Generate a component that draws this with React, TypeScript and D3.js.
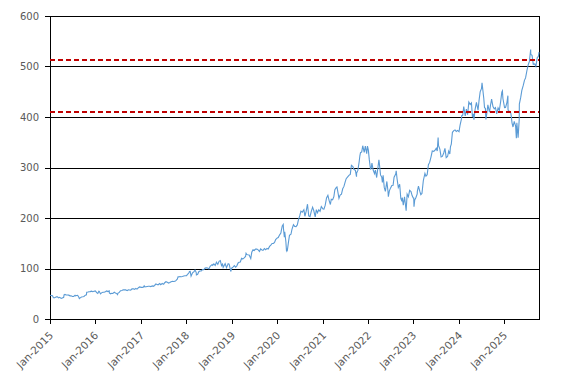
import React from "react";
import * as d3 from "d3";

type Pt = [string, number];

const y2015: Pt[] = [["01-02",46.8],["01-12",46.6],["01-21",45.9],["01-27",42.7],["02-02",41.7],["02-11",42.4],["02-20",43.9],["03-02",43.9],["03-11",41.9],["03-20",42.9],["04-01",40.7],["04-10",41.7],["04-21",42.9],["04-24",47.9],["05-01",48.6],["05-11",47.4],["05-21",47.4],["06-01",47.2],["06-11",45.9],["06-19",46.1],["07-01",44.5],["07-10",44.6],["07-21",47.0],["07-24",45.9],["08-03",46.7],["08-11",47.0],["08-21",43.1],["08-25",40.5],["09-01",41.8],["09-11",43.5],["09-21",43.9],["10-01",44.6],["10-12",47.1],["10-21",47.8],["10-23",52.9],["11-02",53.4],["11-11",54.0],["11-20",54.2],["12-01",55.2],["12-11",54.1],["12-21",54.8],["12-31",55.5]];
const y2016: Pt[] = [["01-04",54.8],["01-11",52.3],["01-20",50.8],["01-29",55.1],["02-01",54.7],["02-11",49.7],["02-19",51.8],["03-01",52.9],["03-11",53.1],["03-21",53.9],["04-01",55.6],["04-11",54.3],["04-21",55.8],["04-22",51.8],["05-02",50.0],["05-11",51.0],["05-20",50.6],["06-01",52.9],["06-10",51.5],["06-21",50.3],["06-27",48.4],["07-01",51.2],["07-11",52.6],["07-21",55.9],["08-01",56.6],["08-11",58.0],["08-19",57.6],["09-01",57.6],["09-12",56.2],["09-21",57.8],["10-03",57.4],["10-11",57.2],["10-21",59.7],["11-01",59.8],["11-11",58.7],["11-21",60.6],["12-01",59.2],["12-12",62.0],["12-21",63.5]];
const y2017: Pt[] = [["01-03",62.6],["01-11",62.6],["01-20",62.7],["01-27",65.8],["02-01",63.6],["02-10",64.0],["02-21",64.5],["03-01",64.9],["03-10",64.9],["03-21",64.2],["04-03",65.6],["04-11",64.7],["04-21",66.4],["04-28",68.5],["05-01",69.4],["05-11",68.5],["05-19",67.7],["06-01",70.1],["06-09",68.0],["06-21",70.3],["06-30",68.9],["07-03",69.0],["07-11",71.8],["07-21",73.8],["08-01",72.6],["08-11",71.2],["08-21",72.2],["09-01",73.9],["09-11",74.8],["09-21",74.2],["10-02",74.6],["10-11",76.3],["10-20",78.8],["10-27",83.8],["11-01",83.2],["11-10",84.0],["11-21",83.7],["12-01",84.3],["12-11",85.2],["12-21",85.5]];
const y2018: Pt[] = [["01-02",85.9],["01-11",88.3],["01-22",91.6],["01-26",94.1],["02-01",94.3],["02-08",85.0],["02-21",92.0],["03-01",92.9],["03-12",96.8],["03-21",92.5],["03-23",87.2],["04-02",88.5],["04-11",93.6],["04-20",95.0],["05-01",95.0],["05-11",97.7],["05-21",97.5],["06-01",100.8],["06-11",101.3],["06-21",101.1],["07-02",99.1],["07-11",104.2],["07-20",106.3],["07-27",107.7],["08-01",106.3],["08-10",109.0],["08-21",106.0],["08-31",112.3],["09-11",108.2],["09-21",114.3],["10-01",115.6],["10-11",105.7],["10-19",108.5],["10-24",102.3],["11-01",105.9],["11-09",109.6],["11-20",101.7],["12-03",109.6],["12-11",108.6],["12-21",98.2],["12-24",94.1]];
const y2019: Pt[] = [["01-02",101.1],["01-11",102.8],["01-22",105.7],["02-01",102.8],["02-11",105.3],["02-21",111.0],["03-01",112.5],["03-11",112.8],["03-21",120.3],["04-01",119.0],["04-11",120.9],["04-22",123.8],["04-26",129.9],["05-01",127.9],["05-10",127.1],["05-21",126.9],["06-03",119.8],["06-11",132.1],["06-21",137.0],["07-01",135.7],["07-11",138.4],["07-22",138.4],["08-01",136.9],["08-12",133.8],["08-21",138.8],["09-03",136.1],["09-11",136.1],["09-20",139.4],["10-01",137.1],["10-11",139.7],["10-21",138.4],["11-01",143.7],["11-11",146.1],["11-21",149.5],["12-02",149.6],["12-11",151.7],["12-20",157.4]];
const y2020: Pt[] = [["01-02",160.6],["01-10",161.3],["01-21",166.7],["01-31",170.2],["02-03",174.4],["02-11",184.4],["02-19",187.3],["02-21",178.6],["02-28",162.0],["03-02",172.8],["03-11",153.6],["03-16",135.4],["03-20",137.4],["03-23",136.0],["04-01",152.1],["04-09",165.5],["04-21",167.8],["04-29",177.4],["05-11",186.7],["05-21",183.4],["06-01",182.8],["06-11",186.3],["06-19",195.2],["07-01",204.7],["07-10",213.7],["07-21",211.6],["08-03",216.5],["08-11",203.4],["08-21",213.0],["09-01",227.3],["09-11",204.0],["09-21",202.5],["10-01",212.5],["10-12",221.4],["10-21",214.9],["11-02",202.3],["11-11",216.5],["11-20",210.4],["12-01",216.2],["12-11",213.3],["12-21",222.6]];
const y2021: Pt[] = [["01-04",217.7],["01-11",217.5],["01-21",225.0],["01-27",232.9],["02-01",239.6],["02-12",245.0],["02-22",234.5],["03-04",226.7],["03-11",237.1],["03-22",236.0],["04-01",242.4],["04-09",255.9],["04-21",260.6],["04-26",261.6],["05-03",251.9],["05-12",239.0],["05-21",245.2],["06-01",247.3],["06-11",257.9],["06-21",262.6],["07-01",271.6],["07-09",277.9],["07-21",281.4],["08-02",284.9],["08-11",286.4],["08-20",304.4],["09-01",301.8],["09-10",296.0],["09-21",294.3],["09-30",281.9],["10-01",289.1],["10-11",294.2],["10-21",310.8],["10-27",323.2],["11-01",329.4],["11-11",330.8],["11-19",343.1],["12-01",330.1],["12-10",342.5],["12-21",327.3],["12-27",342.5]];
const y2022: Pt[] = [["01-03",334.8],["01-11",315.0],["01-21",296.0],["01-27",299.8],["02-01",308.8],["02-11",295.0],["02-22",287.7],["03-01",294.9],["03-11",280.1],["03-21",299.5],["03-29",315.4],["04-01",309.4],["04-11",285.3],["04-21",280.8],["04-26",270.2],["05-02",284.5],["05-11",260.6],["05-20",252.6],["06-01",272.4],["06-10",253.0],["06-13",242.3],["06-21",253.7],["07-01",259.6],["07-11",264.5],["07-21",264.8],["07-29",280.7],["08-11",287.0],["08-15",293.5],["08-22",277.8],["09-01",260.4],["09-12",266.7],["09-21",239.0],["09-30",232.9],["10-03",240.7],["10-11",225.4],["10-21",242.1],["10-26",231.3],["11-03",214.3],["11-11",247.1],["11-21",242.1],["12-01",254.7],["12-12",252.5],["12-21",244.4],["12-30",239.8]];
const y2023: Pt[] = [["01-03",239.6],["01-05",222.3],["01-11",235.8],["01-20",240.2],["01-31",247.8],["02-01",252.8],["02-10",263.1],["02-21",252.7],["03-01",246.3],["03-10",248.6],["03-21",273.8],["04-03",288.3],["04-11",282.8],["04-21",285.8],["04-26",295.4],["05-01",305.6],["05-11",310.1],["05-22",321.2],["06-01",332.6],["06-12",331.9],["06-21",333.6],["07-03",338.0],["07-11",332.5],["07-18",359.5],["07-21",343.8],["08-01",336.3],["08-11",321.0],["08-21",321.9],["09-01",328.7],["09-11",337.9],["09-21",319.5],["10-02",321.8],["10-11",332.4],["10-20",326.7],["10-25",340.7],["11-01",346.1],["11-10",369.7],["11-21",373.1],["12-01",374.5],["12-11",371.3],["12-21",373.5]];
const y2024: Pt[] = [["01-02",370.9],["01-11",384.6],["01-22",396.5],["01-24",402.6],["02-01",403.8],["02-09",420.6],["02-21",402.2],["03-01",415.5],["03-11",404.5],["03-21",429.4],["04-01",424.6],["04-11",427.9],["04-19",400.0],["04-26",406.3],["05-01",394.9],["05-10",414.7],["05-21",429.0],["06-03",413.5],["06-11",432.7],["06-20",449.8],["07-01",456.7],["07-05",467.6],["07-11",454.7],["07-19",437.1],["07-25",418.4],["08-01",417.1],["08-05",395.2],["08-12",406.0],["08-21",424.1],["09-03",409.4],["09-11",423.0],["09-20",435.3],["10-01",420.7],["10-11",416.3],["10-21",418.8],["10-31",406.4],["11-11",418.0],["11-21",412.9],["12-02",431.0],["12-11",449.0],["12-16",451.6],["12-20",436.6],["12-31",421.5]];
const y2025: Pt[] = [["01-02",418.6],["01-10",419.0],["01-21",428.5],["01-29",442.3],["01-30",415.0],["02-03",411.4],["02-11",411.4],["02-21",408.2],["02-26",399.7],["03-03",388.5],["03-11",380.2],["03-21",391.3],["04-01",382.1],["04-07",357.9],["04-11",388.5],["04-21",359.1],["04-30",395.3],["05-01",425.4],["05-12",438.7],["05-21",452.6],["06-02",463.0],["06-11",472.6],["06-20",477.4],["07-01",492.1],["07-11",503.3],["07-21",510.1],["07-31",533.5],["08-01",524.1],["08-11",522.0],["08-21",504.2],["09-02",505.1],["09-11",500.4],["09-22",517.9],["10-01",519.7],["10-06",528.6]];

const years = [2015, 2016, 2017, 2018, 2019, 2020, 2021, 2022, 2023, 2024, 2025];
const yearSeries = [y2015, y2016, y2017, y2018, y2019, y2020, y2021, y2022, y2023, y2024, y2025];
const refLevels = [513, 410];
const yTicks = [0, 100, 200, 300, 400, 500, 600];
const domainStart = "2015-01-01";
const domainEnd = "2025-10-06";

const W = 567, H = 383;
const L = 50, R = 539, T = 16, B = 319;

export default function App() {
  const parse = d3.timeParse("%Y-%m-%d");
  const data = yearSeries.flatMap((arr, i) =>
    arr.map(([md, v]) => ({ date: parse(`${years[i]}-${md}`) as Date, value: v }))
  );
  const x = d3.scaleTime().domain([parse(domainStart) as Date, parse(domainEnd) as Date]).range([L, R]);
  const y = d3.scaleLinear().domain([0, 600]).range([B, T]);
  const line = d3.line<{ date: Date; value: number }>().x(d => x(d.date)).y(d => y(d.value));
  const xTicks = years.map(yr => new Date(yr, 0, 1));
  const fmt = d3.timeFormat("%b-%Y");
  const font = "'DejaVu Sans', sans-serif";
  return (
    <svg width={W} height={H} style={{ position: "absolute", left: 0, top: 0, background: "#fff" }}>
      <rect x={0} y={0} width={W} height={H} fill="#fff" />
      {yTicks.map(t => (
        <g key={t}>
          <line x1={L - 5} x2={R} y1={Math.round(y(t)) + 0.5} y2={Math.round(y(t)) + 0.5} stroke="#000" strokeWidth={1} />
          <text x={39} y={y(t)} dy="0.35em" textAnchor="end" fontFamily={font} fontSize={10} fill="#595959">{t}</text>
        </g>
      ))}
      <line x1={L + 0.5} x2={L + 0.5} y1={T} y2={B + 5} stroke="#000" />
      <line x1={R + 0.5} x2={R + 0.5} y1={T} y2={B + 1} stroke="#000" />
      {xTicks.map(t => {
        const px = Math.round(x(t)) + 0.5;
        return (
          <g key={+t}>
            <line x1={px} x2={px} y1={B} y2={B + 5} stroke="#000" />
            <text transform={`translate(${px + 3.5},${B + 17}) rotate(-45)`} textAnchor="end" fontFamily={font} fontSize={10.5} fill="#595959">{fmt(t)}</text>
          </g>
        );
      })}
      <path d={line(data) || ""} fill="none" stroke="#5b9bd5" strokeWidth={1.1} />
      {refLevels.map(r => (
        <line key={r} x1={L} x2={R} y1={y(r)} y2={y(r)} stroke="#c00000" strokeWidth={2} strokeDasharray="5,3" />
      ))}
    </svg>
  );
}
